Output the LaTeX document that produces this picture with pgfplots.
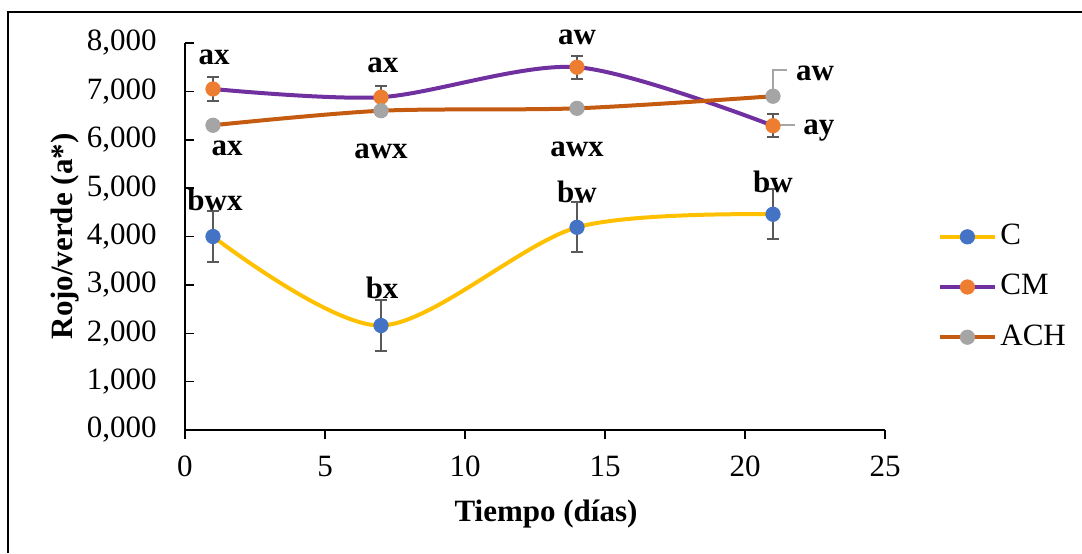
\documentclass[border=0pt]{standalone}
\usepackage{fontspec}
\setmainfont{Liberation Serif}
\usepackage{pgfplots}
\pgfplotsset{compat=1.18}
\definecolor{cY}{HTML}{FFC000}
\definecolor{cB}{HTML}{4472C4}
\definecolor{cP}{HTML}{7030A0}
\definecolor{cO}{HTML}{ED7D31}
\definecolor{cBr}{HTML}{C55A11}
\definecolor{cG}{HTML}{A5A5A5}
\definecolor{cE}{HTML}{595959}
\definecolor{cL}{HTML}{A6A6A6}
\begin{document}
\fontsize{15.5}{18.6}\selectfont
\begin{tikzpicture}
\path[use as bounding box] (0,0) rectangle (541pt,276.5pt);
\draw[line width=1pt] (4pt,0) -- (4pt,270.5pt) -- (541pt,270.5pt);
\begin{axis}[
  at={(92.5pt,61.5pt)}, anchor=south west,
  scale only axis, width=350pt, height=193.5pt,
  xmin=0, xmax=25, ymin=0, ymax=8,
  clip=false,
  axis x line*=bottom, axis y line*=left,
  axis line style={-, line width=0.75pt, black},
  xtick={0,5,10,15,20,25}, ytick={0,1,2,3,4,5,6,7,8},
  tick align=inside,
  major tick length=4.5pt,
  tick style={line width=0.75pt, black},
  major x tick style={yshift=-4.5pt},
  /pgf/number format/assume math mode=true,
  yticklabel style={/pgf/number format/.cd, fixed, fixed zerofill, precision=3, use comma, /tikz/.cd, xshift=-8.8pt},
  xticklabel style={yshift=-7.8pt},
  tick label style={font=\fontsize{15.5}{18.6}\selectfont},
  xlabel={\textbf{Tiempo (días)}},
  ylabel={\textbf{Rojo/verde (a*)}},
  xlabel style={at={(axis description cs:0.5157,-0.2171)}, anchor=center, font=\fontsize{15.5}{18.6}\selectfont},
  ylabel style={at={(axis description cs:-0.1715,0.5)}, anchor=center, font=\fontsize{15.5}{18.6}\selectfont},
  legend style={at={(rel axis cs:1,0.3695)}, anchor=west, xshift=26.5pt, draw=none, fill=none,
    font=\fontsize{15.5}{18.6}\selectfont, row sep=8.5pt, inner sep=0pt, cells={anchor=west}},
  legend image code/.code={\draw[mark repeat=2,mark phase=2,#1] plot coordinates {(0pt,0pt) (13.5pt,0pt) (27pt,0pt)};},
  every axis plot/.append style={line width=2pt, mark=*, mark size=3.6pt},
  error bars/error bar style={cE, line width=1pt},
  error bars/error mark options={rotate=90, cE, mark size=3pt, line width=1pt},
]
\addplot[cY, smooth, mark options={draw=cB, fill=cB, line width=0.4pt},
  error bars/.cd, y dir=both, y explicit]
  coordinates {(1,4.00) +- (0,0.52) (7,2.16) +- (0,0.52) (14,4.19) +- (0,0.52) (21,4.46) +- (0,0.52)};
\addlegendentry{C}
\addplot[cP, smooth, mark options={draw=cO, fill=cO, line width=0.4pt},
  error bars/.cd, y dir=both, y explicit]
  coordinates {(1,7.05) +- (0,0.24) (7,6.88) +- (0,0.23) (14,7.50) +- (0,0.24) (21,6.29) +- (0,0.24)};
\addlegendentry{CM}
\addplot[cBr, smooth, mark options={draw=cG, fill=cG, line width=0.4pt},
  error bars/.cd, y dir=both, y explicit]
  coordinates {(1,6.30) +- (0,0.08) (7,6.60) +- (0,0.08) (14,6.65) +- (0,0.06) (21,6.90) +- (0,0.08)};
\addlegendentry{ACH}
\draw[cL, line width=0.75pt] (axis cs:21,7.05) -- (axis cs:21,7.44) -- (axis cs:21.5,7.44);
\draw[cL, line width=0.75pt] (axis cs:21,6.31) -- (axis cs:21.79,6.31);
\begin{scope}[every node/.style={anchor=base, font=\fontsize{15.5}{18.6}\selectfont\bfseries, inner sep=0pt}]
\node at (axis cs:1.036,7.566) {ax};
\node at (axis cs:7.07,7.40) {ax};
\node at (axis cs:14.0,7.96) {aw};
\node at (axis cs:1.5,5.685) {ax};
\node at (axis cs:7.0,5.62) {awx};
\node at (axis cs:14.0,5.66) {awx};
\node at (axis cs:22.5,7.235) {aw};
\node at (axis cs:22.64,6.10) {ay};
\node at (axis cs:1.07,4.53) {bwx};
\node at (axis cs:7.04,2.71) {bx};
\node at (axis cs:14.0,4.71) {bw};
\node at (axis cs:21.0,4.92) {bw};
\end{scope}
\end{axis}
\end{tikzpicture}
\end{document}
